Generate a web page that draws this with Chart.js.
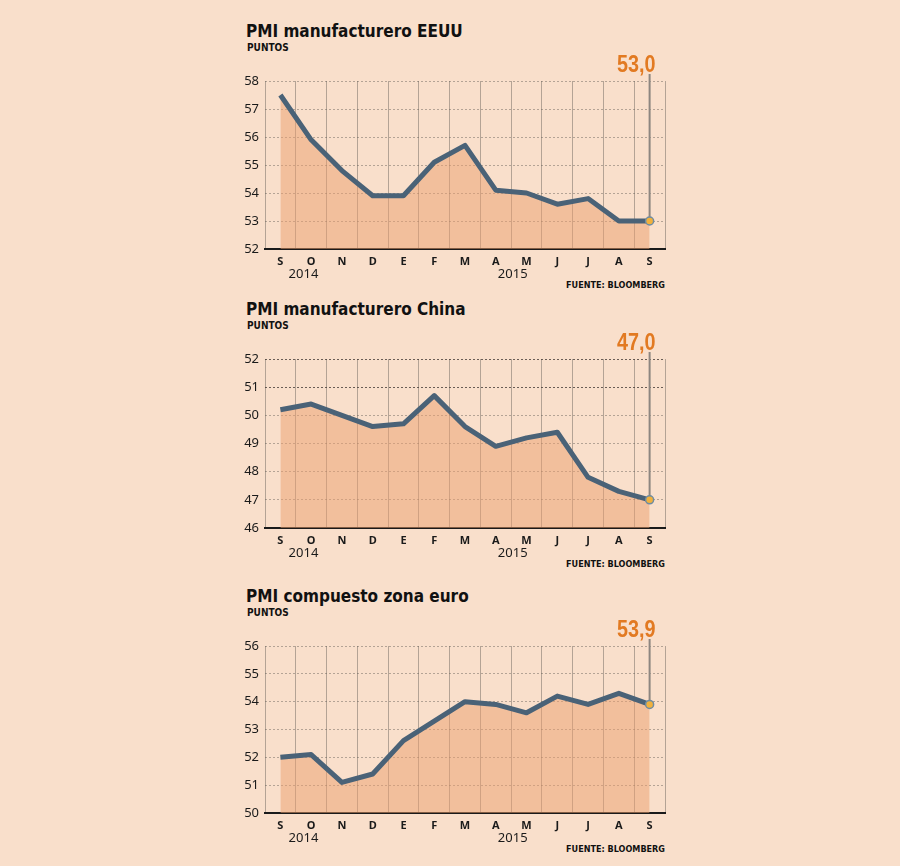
<!DOCTYPE html>
<html>
<head>
<meta charset="utf-8">
<script src="https://cdn.jsdelivr.net/npm/chart.js@4"></script>
<style>
  html, body { margin: 0; padding: 0; }
  body { width: 900px; height: 866px; background: #f9dfcb; position: relative; overflow: hidden; }
  .title { position: absolute; left: 246px; font: bold 17px/17px "DejaVu Sans Condensed", "DejaVu Sans", sans-serif; font-stretch: condensed; color: #111; white-space: nowrap; }
  .unit { position: absolute; left: 247px; font: bold 10px/10px "DejaVu Sans Condensed", sans-serif; font-stretch: condensed; color: #111; }
  .source { position: absolute; left: 465px; width: 200px; text-align: right; font: bold 9px/9px "DejaVu Sans Condensed", sans-serif; font-stretch: condensed; color: #111; }
  canvas { position: absolute; left: 230px; }
</style>
</head>
<body>
<script>
//// PMI PANELS

const months = ['S', 'O', 'N', 'D', 'E', 'F', 'M', 'A', 'M', 'J', 'J', 'A', 'S'];
const years = ['2014', '2015'];

const usaPmi = [57.5, 55.9, 54.8, 53.9, 53.9, 55.1, 55.7, 54.1, 54.0, 53.6, 53.8, 53.0, 53.0];
const chinaPmi = [50.2, 50.4, 50.0, 49.6, 49.7, 50.7, 49.6, 48.9, 49.2, 49.4, 47.8, 47.3, 47.0];
const euroPmi = [52.0, 52.1, 51.1, 51.4, 52.6, 53.3, 54.0, 53.9, 53.6, 54.2, 53.9, 54.3, 53.9];

const usaRange = [52, 58];
const chinaRange = [46, 52];
const euroRange = [50, 56];

const titles = ['PMI manufacturero EEUU', 'PMI manufacturero China', 'PMI compuesto zona euro'];

// look
const lineColor = '#4a6277';
const fillColor = 'rgba(236, 160, 110, 0.5)';
const gridColor = 'rgba(95, 90, 85, 0.45)';
const orange = '#e27a22';

// draws the last-value label, its stem and the year row
const panelDecor = {
    id: 'panelDecor',
    beforeDatasetsDraw(chart) {
        const ctx = chart.ctx;
        const pts = chart.getDatasetMeta(0).data;
        const last = pts[pts.length - 1];
        ctx.save();
        ctx.strokeStyle = '#8d8680';
        ctx.lineWidth = 2;
        ctx.beginPath();
        ctx.moveTo(last.x, chart.chartArea.top - 7);
        ctx.lineTo(last.x, last.y);
        ctx.stroke();
        ctx.restore();
    },
    afterDatasetsDraw(chart, args, opts) {
        const ctx = chart.ctx;
        const data = chart.data.datasets[0].data;
        const pts = chart.getDatasetMeta(0).data;
        const last = pts[pts.length - 1];
        const xScale = chart.scales.x;

        // narrow bold value label
        ctx.save();
        ctx.translate(last.x + 6, chart.chartArea.top - 9);
        ctx.scale(0.86, 1);
        ctx.fillStyle = orange;
        ctx.font = 'bold 23px "Liberation Sans", sans-serif';
        ctx.textAlign = 'right';
        ctx.textBaseline = 'alphabetic';
        ctx.fillText(data[data.length - 1].toFixed(1).replace('.', ','), 0, 0);
        ctx.restore();

        ctx.save();
        ctx.fillStyle = '#1a1a1a';
        ctx.font = '13px "Noto Sans", sans-serif';
        ctx.textAlign = 'center';
        ctx.textBaseline = 'middle';
        years.forEach((y, i) => {
            ctx.fillText(y, xScale.getPixelForValue(opts.yearAt[i]), chart.chartArea.bottom + 25);
        });
        ctx.restore();
    }
};

function makePanel(i, values, range, plotTop, plotBottom, darkFrom) {
    const padTop = 45, axisH = 45;
    const h = plotBottom - plotTop;

    const t = document.createElement('div');
    t.className = 'title';
    t.style.top = (plotTop - 58) + 'px';
    t.textContent = titles[i];
    document.body.appendChild(t);

    const u = document.createElement('div');
    u.className = 'unit';
    u.style.top = (plotTop - 38) + 'px';
    u.textContent = 'PUNTOS';
    document.body.appendChild(u);

    const s = document.createElement('div');
    s.className = 'source';
    s.style.top = (plotBottom + 32) + 'px';
    s.textContent = 'FUENTE: BLOOMBERG';
    document.body.appendChild(s);

    const canvas = document.createElement('canvas');
    canvas.width = 450;
    canvas.height = padTop + h + axisH;
    canvas.style.top = (plotTop - padTop) + 'px';
    document.body.appendChild(canvas);

    const lastIdx = values.length - 1;

    new Chart(canvas, {
        type: 'line',
        data: {
            labels: months,
            datasets: [{
                data: values,
                borderColor: lineColor,
                borderWidth: 5,
                borderJoinStyle: 'round',
                fill: 'start',
                backgroundColor: fillColor,
                tension: 0,
                pointRadius: c => c.dataIndex === lastIdx ? 4 : 0,
                pointBackgroundColor: '#f1b13c',
                pointBorderColor: '#6f8ca2',
                pointBorderWidth: 1.5
            }]
        },
        plugins: [panelDecor],
        options: {
            responsive: false,
            animation: false,
            events: [],
            layout: { padding: { top: padTop, right: 15, left: 0, bottom: 0 } },
            plugins: {
                legend: { display: false },
                tooltip: { enabled: false },
                panelDecor: { yearAt: [0.75, 7.55] }
            },
            scales: {
                x: {
                    offset: true,
                    afterFit: sc => { sc.height = axisH; },
                    grid: { offset: true, color: gridColor, lineWidth: 1, drawTicks: false },
                    border: { display: true, color: '#1a1a1a', width: 2 },
                    ticks: {
                        padding: 6,
                        color: '#1a1a1a',
                        font: { family: '"Noto Sans", sans-serif', size: 11, weight: 'bold' },
                        maxRotation: 0
                    }
                },
                y: {
                    min: range[0],
                    max: range[1],
                    afterFit: sc => { sc.width = 35; },
                    grid: {
                        drawTicks: false,
                        color: c => (darkFrom !== null && c.tick && c.tick.value >= darkFrom) ? 'rgba(70, 60, 55, 0.8)' : gridColor,
                        lineWidth: 1
                    },
                    border: { display: false, dash: [2, 2] },
                    ticks: {
                        stepSize: 1,
                        padding: 6,
                        color: '#1a1a1a',
                        font: { family: '"Noto Sans", sans-serif', size: 13 }
                    }
                }
            }
        }
    });
}

makePanel(0, usaPmi, usaRange, 81, 249, null);
makePanel(1, chinaPmi, chinaRange, 359, 528, 51);
makePanel(2, euroPmi, euroRange, 646, 813, null);
</script>
</body>
</html>
